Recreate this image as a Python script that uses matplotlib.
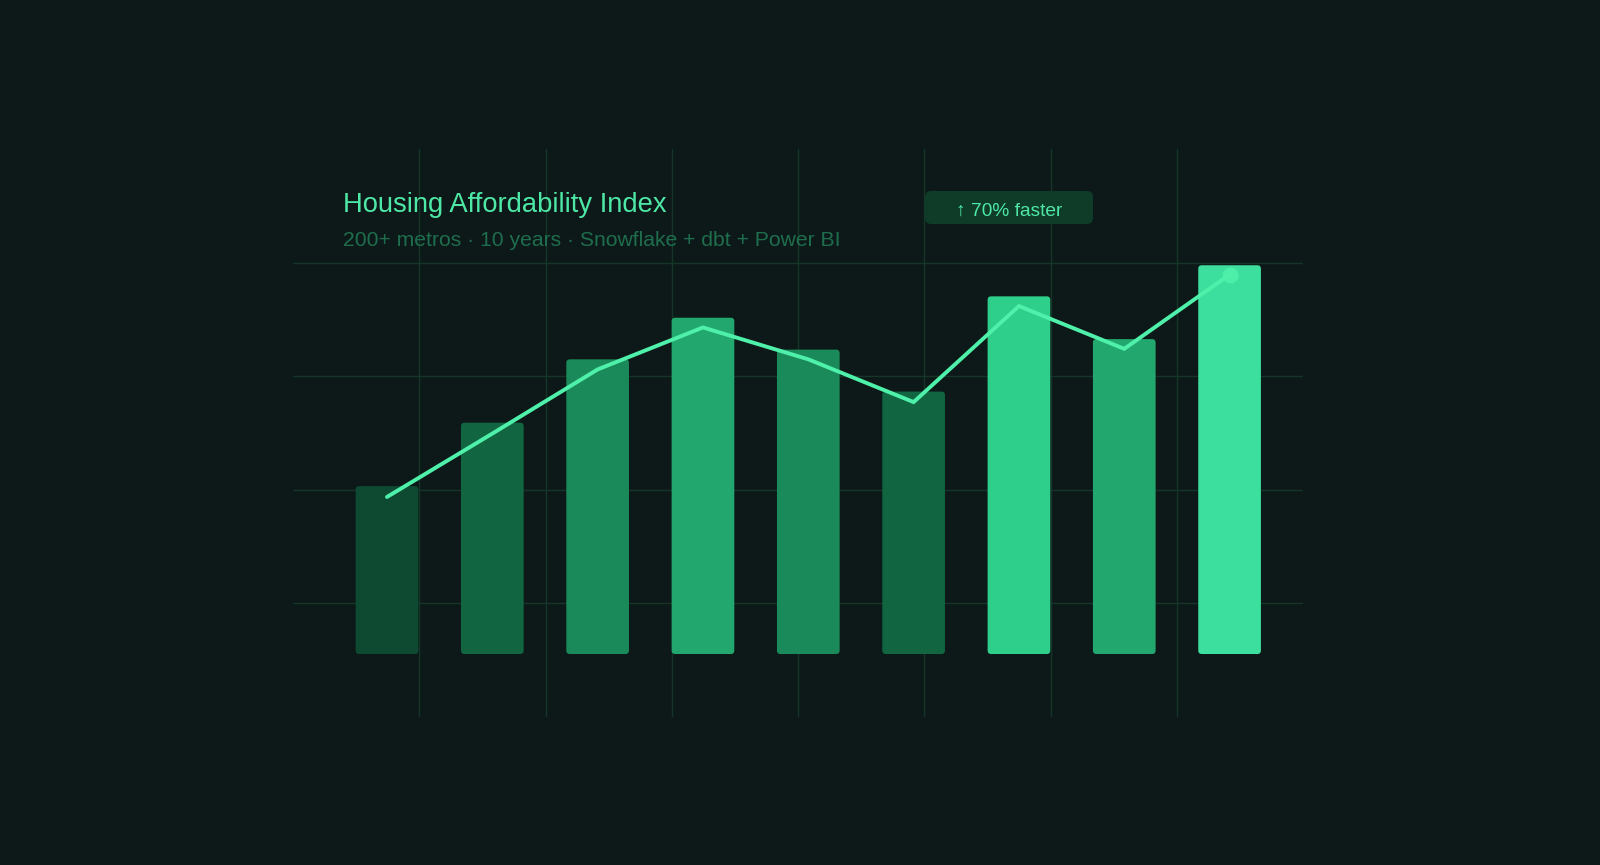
import matplotlib
matplotlib.use("Agg")
import matplotlib.pyplot as plt
from matplotlib.patches import FancyBboxPatch

# ---- data ----
periods = list(range(9))
bar_values = [43.2, 59.5, 75.8, 86.5, 78.3, 67.5, 92, 81, 100]
line_values = [40.4, 56.7, 73.2, 84.0, 75.8, 64.8, 89.5, 78.5, 97.6]
bar_colors = ["#0e4a32", "#116641", "#1a8a5a", "#22a86e", "#1a8a5a",
              "#116641", "#2ecf8a", "#22a86e", "#3ddf9e"]
title = "Housing Affordability Index"
subtitle = "200+ metros · 10 years · Snowflake + dbt + Power BI"
badge = "↑ 70% faster"

W, H = 1600, 865
BG = "#0c1918"
GRID = "#163529"
LINE = "#4ef0aa"

plt.rcParams['font.family'] = ['Liberation Sans', 'DejaVu Sans']
fig = plt.figure(figsize=(W / 100, H / 100), dpi=100, facecolor=BG)

# plot region in pixels
L, R, T, B = 293, 1303, 149, 717
rect = [L / W, 1 - B / H, (R - L) / W, (B - T) / H]

# background grid (8 x 5 cells)
gax = fig.add_axes(rect)
gax.set_xlim(0, 8)
gax.set_ylim(0, 5)
gax.set_facecolor(BG)
for k in range(1, 8):
    gax.axvline(k, color=GRID, lw=1.0)
for k in range(1, 5):
    gax.axhline(k, color=GRID, lw=1.0)
gax.axis("off")

# data axes
ax = fig.add_axes(rect)
ax.patch.set_alpha(0)
ax.set_xlim(-0.8925, 8.697)
ax.set_ylim(-16.2, 129.9)
ax.axis("off")

bw = 0.595
bars = ax.bar(periods, bar_values, width=bw, color=bar_colors)
# replace with slightly rounded bars
px_x = 105.325  # px per x unit
px_y = 3.887    # px per y unit
for b, c in zip(bars, bar_colors):
    b.set_visible(False)
    fb = FancyBboxPatch((b.get_x(), b.get_y()), b.get_width(), b.get_height(),
                        boxstyle="round,pad=0,rounding_size=%f" % (3.5 / px_x),
                        mutation_aspect=px_x / px_y,
                        facecolor=c, edgecolor="none")
    ax.add_patch(fb)

ax.plot(periods, line_values, color=LINE, lw=2.8, solid_capstyle="round",
        solid_joinstyle="miter", zorder=5)
ax.plot(periods[-1], line_values[-1], "o", color=LINE, ms=11.5, mec="none",
        alpha=0.9, zorder=6)

# texts
fig.text(343 / W, 1 - 212 / H, title, color="#4ee8a6", fontsize=19.75,
         va="baseline", ha="left")
fig.text(343 / W, 1 - 246 / H, subtitle, color="#1e6e4d", fontsize=15.2,
         va="baseline", ha="left")

# badge
bx0, by0, bx1, by1 = 925, 191, 1093, 224
bax = fig.add_axes([0, 0, 1, 1])
bax.set_xlim(0, W)
bax.set_ylim(H, 0)
bax.axis("off")
bax.patch.set_alpha(0)
bax.add_patch(FancyBboxPatch((bx0, by0), bx1 - bx0, by1 - by0,
                             boxstyle="round,pad=0,rounding_size=6",
                             facecolor="#0f3b29", edgecolor="none"))
bax.text((bx0 + bx1) / 2, (by0 + by1) / 2 + 3.5, badge, color="#4ee8a6",
         fontsize=13.8, ha="center", va="center")

fig.savefig("out.png", dpi=100, facecolor=BG)
